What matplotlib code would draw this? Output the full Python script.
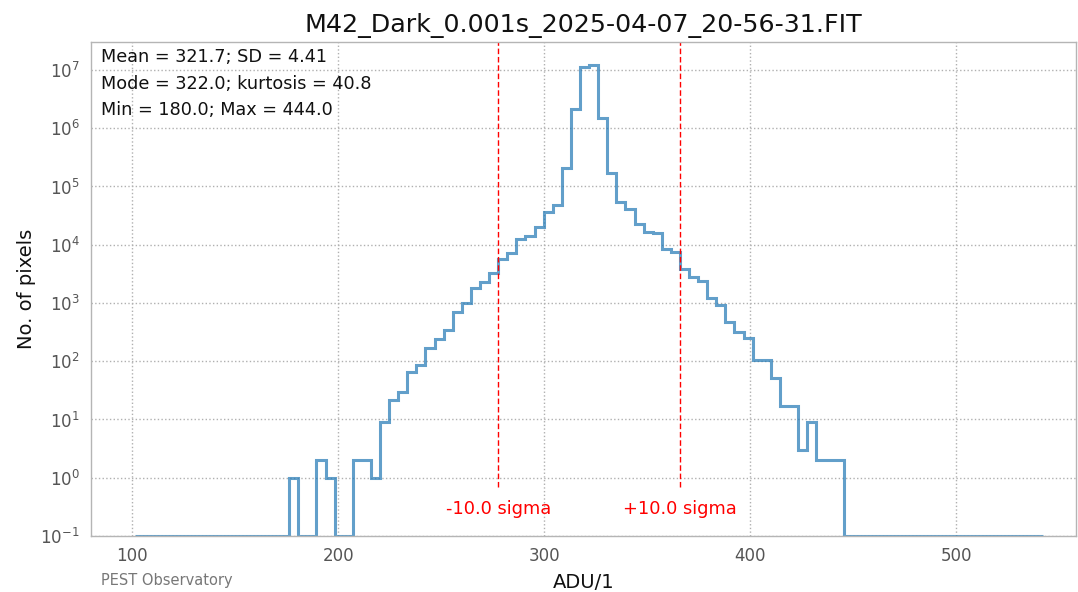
import numpy as np
import matplotlib
matplotlib.use("Agg")
import matplotlib.pyplot as plt

title = "M42_Dark_0.001s_2025-04-07_20-56-31.FIT"
mean_adu = 321.7
sd_adu = 4.41
mode_adu = 322.0
kurt = 40.8
min_adu = 180.0
max_adu = 444.0
n_sigma = 10.0
n_bins = 100
range_sigma = 50.0

# counts per bin (100 bins spanning mean +/- 50 SD)
counts = [0] * 17 + [
    1, 0, 0, 2, 1, 0, 0, 2, 2, 1,
    9, 22, 30, 65, 85, 170, 240, 340, 700, 980,
    1780, 2250, 3250, 5750, 7100, 12500, 14000, 19800, 35900, 49000,
    205000, 2110000, 11100000, 12200000, 1480000, 168000, 54500, 40400, 23000, 16700,
    15600, 8300, 7500, 3800, 2800, 2400, 1240, 940, 473, 316,
    255, 104, 104, 52, 17, 17, 3, 9, 2, 2, 2,
]
counts = counts + [0] * (n_bins - len(counts))
counts = np.array(counts, dtype=float)

edges = np.linspace(mean_adu - range_sigma * sd_adu, mean_adu + range_sigma * sd_adu, n_bins + 1)

fig = plt.figure(figsize=(10.78, 5.92), dpi=100)
ax = fig.add_axes([91 / 1078, 1 - 536 / 592, (1076 - 91) / 1078, (536 - 42) / 592])

ymin = 0.1
ax.stairs(np.maximum(counts, ymin), edges, baseline=None, color="#1f77b4", alpha=0.7, lw=2.2)
ax.set_yscale("log")
ax.set_ylim(ymin, 10 ** 7.48)
ax.set_xlim(80, 558)
ax.set_xticks([100, 200, 300, 400, 500])
ax.set_yticks([10.0 ** k for k in range(-1, 8)])

ax.grid(True, which="major", color="#b0b0b0", linestyle=":", linewidth=1.0)
ax.set_axisbelow(True)
for s in ax.spines.values():
    s.set_color("#b5b5b5")
    s.set_linewidth(1.0)
ax.tick_params(which="both", length=0, labelsize=12, labelcolor="#555555", pad=8)
ax.minorticks_off()

ax.set_title(title, fontsize=18.3, pad=7, color="#111111")
ax.set_xlabel("ADU/1", fontsize=14, labelpad=6, color="#111111")
ax.set_ylabel("No. of pixels", fontsize=14, labelpad=3, color="#111111")

lo = mean_adu - n_sigma * sd_adu
hi = mean_adu + n_sigma * sd_adu
for xv, lab in [(lo, "-%.1f sigma" % n_sigma), (hi, "+%.1f sigma" % n_sigma)]:
    ax.axvline(xv, ymin=0.1, ymax=1.0, color="red", linestyle=(0, (4, 2)), lw=1.0)
    ax.text(xv, 0.055, lab, transform=ax.get_xaxis_transform(), ha="center", va="center",
            color="red", fontsize=12.8)

stats = ["Mean = %.1f; SD = %.2f" % (mean_adu, sd_adu),
         "Mode = %.1f; kurtosis = %.1f" % (mode_adu, kurt),
         "Min = %.1f; Max = %.1f" % (min_adu, max_adu)]
ax.text(0.01, 0.987, "\n".join(stats), transform=ax.transAxes, ha="left", va="top",
        fontsize=12.7, linespacing=1.6, color="#111111")

fig.text(101 / 1078, 1 - 580 / 592, "PEST Observatory", fontsize=10.5, color="#777777",
         ha="left", va="center")

fig.savefig("out.png", dpi=100)
